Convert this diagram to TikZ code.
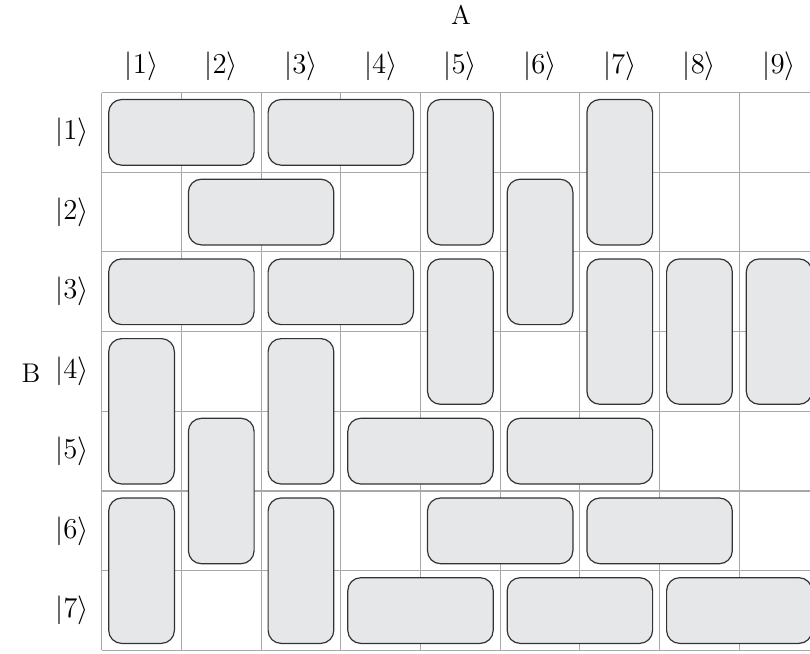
\documentclass[tikz,border=0pt]{standalone}
\definecolor{dfill}{HTML}{E6E7E9}
\definecolor{gline}{HTML}{A8A8A8}
\definecolor{dline}{HTML}{333333}
\begin{document}
\begin{tikzpicture}[x=0.5pt,y=-0.5pt,
  gridline/.style={draw=gline, line width=0.55pt},
  domino/.style={draw=dline, fill=dfill, line width=0.6pt, rounded corners=6.5pt, inner sep=0pt, outer sep=0pt},
  hdom/.style={domino, minimum width=72.7pt, minimum height=32.85pt},
  vdom/.style={domino, minimum width=32.85pt, minimum height=72.7pt},
  lab/.style={font=\fontsize{13.5}{16}\selectfont, inner sep=0pt}]
\useasboundingbox (0,0) rectangle (810,654);
\clip (0,0) rectangle (810,654);
% grid
\foreach \i in {0,...,9}
  \draw[gridline] (101.7+\i*79.7, 92.5) -- (101.7+\i*79.7, 650.4);
\foreach \j in {0,...,7}
  \draw[gridline] (101.7, 92.5+\j*79.7) -- (830, 92.5+\j*79.7);
% horizontal dominoes: first column, row
\foreach \c/\r in {1/1,3/1,2/2,1/3,3/3,4/5,6/5,5/6,7/6,4/7,6/7,8/7}
  \node[hdom] (h\c-\r) at (101.7+\c*79.7, 92.5+\r*79.7-39.85) {};
% vertical dominoes: column, first row
\foreach \c/\r in {5/1,7/1,6/2,5/3,7/3,8/3,9/3,1/4,3/4,2/5,1/6,3/6}
  \node[vdom] (v\c-\r) at (101.7+\c*79.7-39.85, 92.5+\r*79.7) {};
% column labels
\foreach \k in {1,...,9}
  \node[lab] (col\k) at (101.7+\k*79.7-39.85, 66) {$|\k\rangle$};
% row labels
\foreach \k in {1,...,7}
  \node[lab] (row\k) at (72, 92.5+\k*79.7-39.85) {$|\k\rangle$};
\node[lab] (A) at (461, 15) {A};
\node[lab] (B) at (31, 373) {B};
\end{tikzpicture}
\end{document}
